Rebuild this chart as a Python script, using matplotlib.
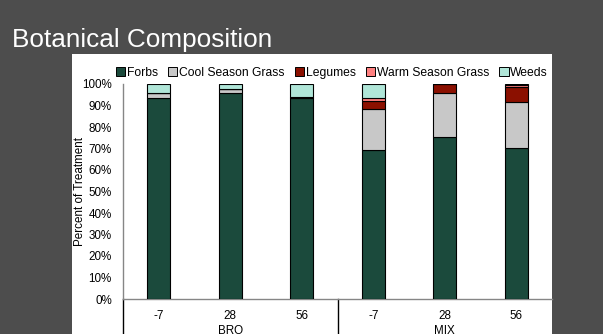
import matplotlib
matplotlib.use("Agg")
import matplotlib.pyplot as plt
from matplotlib.patches import Rectangle
from matplotlib.lines import Line2D
from matplotlib.ticker import PercentFormatter
import numpy as np

plt.rcParams['font.family'] = ['Liberation Sans', 'DejaVu Sans']

# Treatments (group, day) and percent composition per component
groups = ["BRO", "MIX"]
days = ["-7", "28", "56", "-7", "28", "56"]
forbs = [93.3, 95.7, 93.3, 69.3, 75.5, 70.1]
cool_season_grass = [2.4, 2.0, 0.6, 18.9, 20.2, 21.7]
legumes = [0.0, 0.0, 0.0, 4.0, 4.3, 6.9]
warm_season_grass = [0.0, 0.0, 0.0, 1.1, 0.0, 1.0]
weeds = [4.3, 2.3, 6.1, 6.7, 0.0, 0.3]

series = [
    ("Forbs", forbs, "#1b4a3c"),
    ("Cool Season Grass", cool_season_grass, "#c8c8c8"),
    ("Legumes", legumes, "#8b1000"),
    ("Warm Season Grass", warm_season_grass, "#ff8080"),
    ("Weeds", weeds, "#b0e6d8"),
]

W, H = 603, 334
fig = plt.figure(figsize=(W / 100, H / 100), dpi=100, facecolor="#4d4d4d")

# White chart panel behind the plot
panel = fig.add_axes([72 / W, 0, (552 - 72) / W, (H - 54) / H], zorder=-5)
panel.set_facecolor("white")
panel.set_xticks([])
panel.set_yticks([])
for s in panel.spines.values():
    s.set_visible(False)

fig.text(12 / W, (H - 47) / H, "Botanical Composition", color="white",
         fontsize=18.8, ha="left", va="baseline")

ax = fig.add_axes([123 / W, (H - 299) / H, (552 - 123) / W, (299 - 84) / H])
ax.set_facecolor("none")

x = np.arange(len(days))
bottom = np.zeros(len(days))
for name, vals, color in series:
    vals = np.array(vals)
    ax.bar(x, vals, width=0.32, bottom=bottom, color=color,
           edgecolor="black", linewidth=0.8, label=name, zorder=3)
    bottom += vals

ax.set_xlim(-0.5, len(days) - 0.5)
ax.set_ylim(0, 100)
ax.set_yticks(np.arange(0, 101, 10))
ax.yaxis.set_major_formatter(PercentFormatter(decimals=0))
ax.tick_params(axis="y", length=0, labelsize=8.4, pad=8, colors="black")
ax.tick_params(axis="x", length=0, labelsize=8.4, pad=8)
ax.set_xticks(x)
ax.set_xticklabels(days)

for side in ("top", "right"):
    ax.spines[side].set_visible(False)
ax.spines["left"].set_color("#868686")
ax.spines["bottom"].set_color("#868686")
ax.spines["left"].set_linewidth(1.0)
ax.spines["bottom"].set_linewidth(1.0)

fig.text(80 / W, (H - 192) / H, "Percent of Treatment", rotation=90,
         ha="center", va="center", fontsize=8.4)

# Group separators and group labels below the day labels
for xpos in (-0.5, 2.5):
    ax.add_line(Line2D([xpos, xpos], [0, -20], color="black", linewidth=1.0,
                       clip_on=False))
for i, g in enumerate(groups):
    ax.text(1 + 3 * i, -15, g, ha="center", va="center", fontsize=8.4,
            transform=ax.transData, clip_on=False)

handles = [Rectangle((0, 0), 1, 1, facecolor=c, edgecolor="black", linewidth=0.7)
           for _, _, c in series]
leg = fig.legend(handles, [s[0] for s in series], loc="center",
                 bbox_to_anchor=(332 / W, (H - 73) / H), ncol=5, frameon=False,
                 fontsize=8.7, handlelength=0.75, handleheight=0.75,
                 handletextpad=0.15, columnspacing=0.85, borderaxespad=0)

fig.savefig("out.png", dpi=100, facecolor=fig.get_facecolor())
